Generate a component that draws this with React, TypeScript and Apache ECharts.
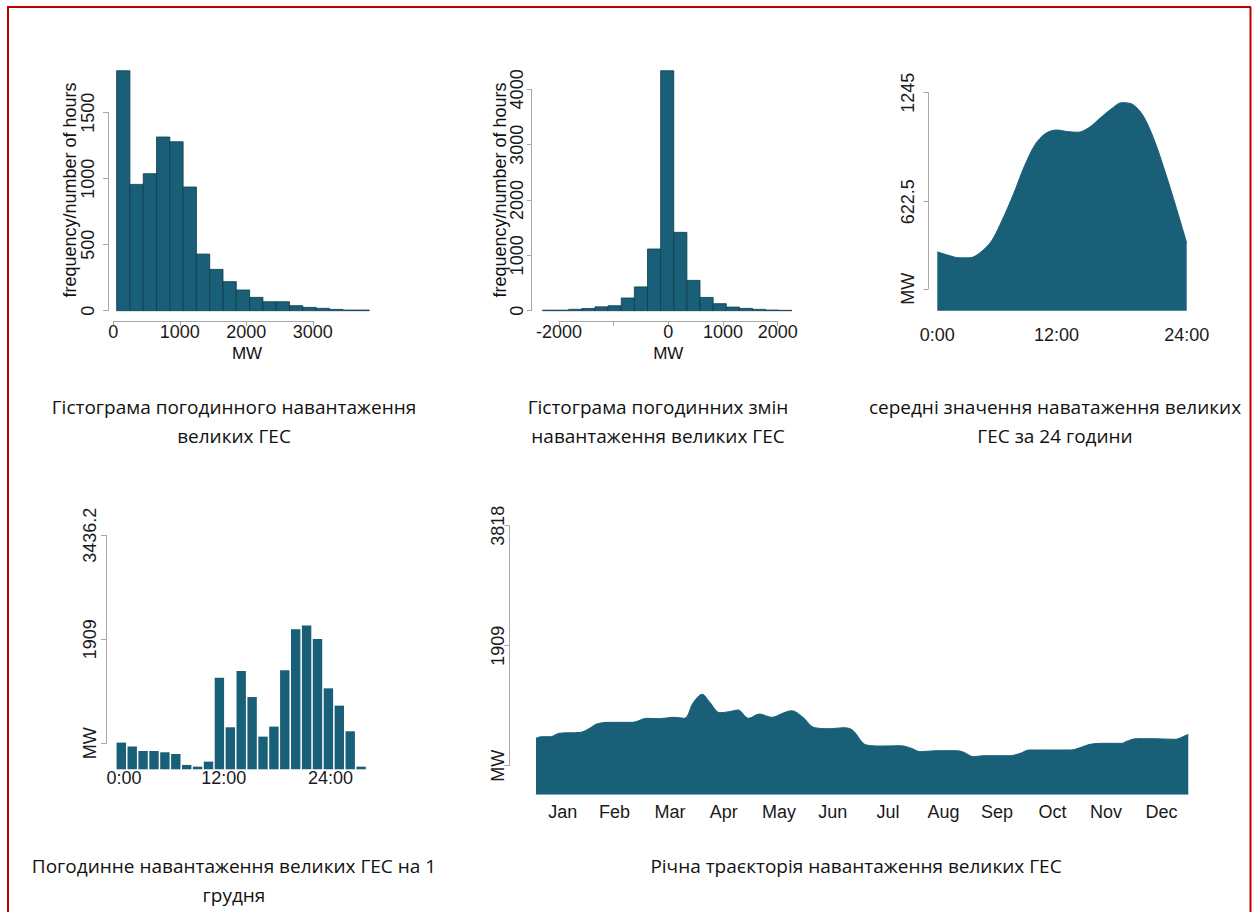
import React, { useEffect, useRef } from "react";
import * as echarts from "echarts";

// ---------- DATA ----------
// Panel 1: histogram of hourly load (MW), bins of equal width
const loadBinStart = 50;
const loadBinWidth = 200;
const loadCounts = [1818, 957, 1038, 1316, 1280, 937, 429, 313, 220, 157, 101, 68, 68, 38, 25, 18, 10, 5, 5];
const loadTicks = [0, 1000, 2000, 3000];
const loadFreqTicks = [0, 500, 1000, 1500];

// Panel 2: histogram of hourly load changes (MW)
const changeBinStart = -2300;
const changeBinWidth = 240;
const changeCounts = [10, 10, 25, 40, 70, 90, 230, 430, 1115, 4337, 1416, 548, 240, 127, 66, 42, 24, 12, 6];
const changeTicks = [-2000, -1000, 0, 1000, 2000];
const changeTickLabels = ["-2000", "", "0", "1000", "2000"];
const changeFreqTicks = [0, 1000, 2000, 3000, 4000];

// Panel 3: mean load by hour of day
const meanHours = [1, 2, 3, 4, 5, 6, 7, 8, 9, 10, 11, 12, 13, 14, 15, 16, 17, 18, 19, 20, 21, 22, 23, 24];
const meanLoad = [336, 317, 302, 302, 334, 398, 520, 662, 820, 947, 1013, 1032, 1023, 1019, 1046, 1099, 1150, 1188, 1179, 1112, 976, 795, 596, 387];
const meanXTicks = [1, 12, 24];
const meanXLabels = ["0:00", "12:00", "24:00"];
const meanYTicks = [125, 622.5, 1245];
const meanYLabels = ["MW", "622.5", "1245"];

// Panel 4: hourly load on 1 December
const dec1Load = [392, 333, 269, 269, 250, 225, 64, 39, 113, 1346, 617, 1444, 1062, 480, 627, 1454, 2056, 2110, 1914, 1189, 935, 558, 39];
const dec1XTicks = [0.25, 9.4, 19.2];
const dec1XLabels = ["0:00", "12:00", "24:00"];
const dec1YTicks = [381.8, 1909, 3436.2];
const dec1YLabels = ["MW", "1909", "3436.2"];

// Panel 5: yearly trajectory (day of year, MW)
const yearDays = [0, 3, 8, 13, 25, 30, 34, 41, 54, 62, 69, 77, 83, 88, 93, 97, 103, 108, 113, 119, 125, 132, 138, 143, 149, 156, 165, 172, 177, 185, 194, 204, 210, 215, 224, 235, 239, 245, 250, 265, 271, 276, 288, 299, 306, 310, 317, 328, 330, 336, 344, 358, 360, 365];
const yearLoad = [436, 461, 461, 515, 531, 595, 663, 690, 690, 754, 748, 770, 754, 1002, 1136, 1018, 843, 859, 886, 754, 822, 770, 834, 875, 780, 605, 589, 605, 568, 329, 313, 318, 277, 223, 239, 239, 218, 143, 159, 159, 197, 250, 250, 250, 302, 340, 356, 356, 382, 430, 430, 420, 436, 500];
const monthTicks = [15, 44, 75, 105, 136, 166, 197, 228, 258, 289, 319, 350];
const monthLabels = ["Jan", "Feb", "Mar", "Apr", "May", "Jun", "Jul", "Aug", "Sep", "Oct", "Nov", "Dec"];
const yearYTicks = [0, 1909, 3818];
const yearYLabels = ["MW", "1909", "3818"];

// Captions
const captions = [
  "Гістограма погодинного навантаження\nвеликих ГЕС",
  "Гістограма погодинних змін\nнавантаження великих ГЕС",
  "середні значення наватаження великих\nГЕС за 24 години",
  "Погодинне навантаження великих ГЕС на 1\nгрудня",
  "Річна траєкторія навантаження великих ГЕС",
];
const yTitle = "frequency/number of hours";
const xTitle = "MW";

// ---------- STYLE ----------
const W = 1255;
const H = 912;
const FILL = "#185f77";
const EDGE = "#0d3d4d";
const AXIS = "#a8a8a8";
const TICK_FONT = "'Liberation Sans', Arial, Helvetica, sans-serif";
const CAP_FONT = "'Open Sans', 'Noto Sans', sans-serif";

type Scale = { x0: number; kx: number; y0: number; ky: number; xv0: number; yv0: number };
const px = (s: Scale, v: number) => s.x0 + (v - s.xv0) * s.kx;
const py = (s: Scale, v: number) => s.y0 - (v - s.yv0) * s.ky;
const rect = (s: Scale, xmin: number, xmax: number, ymin: number, ymax: number) => ({
  left: px(s, xmin),
  width: px(s, xmax) - px(s, xmin),
  top: py(s, ymax),
  height: py(s, ymin) - py(s, ymax),
  containLabel: false,
});

const S1: Scale = { x0: 113.3, kx: 0.0665, y0: 310.7, ky: 0.132, xv0: 0, yv0: 0 };
const S2: Scale = { x0: 668.3, kx: 0.0547, y0: 310.7, ky: 0.05533, xv0: 0, yv0: 0 };
const S3: Scale = { x0: 937.3, kx: 10.843, y0: 310.7, ky: 0.1751, xv0: 1, yv0: 0 };
const S4: Scale = { x0: 121.3, kx: 10.9, y0: 769.3, ky: 0.0681, xv0: 0, yv0: 0 };
const S5: Scale = { x0: 536, kx: 1.787, y0: 765.7, ky: 0.06286, xv0: 0, yv0: 0 };

const hidden = (extra: any = {}) => ({
  type: "value",
  show: false,
  splitLine: { show: false },
  ...extra,
});

const labelStyle = { fontFamily: TICK_FONT, fontSize: 18, color: "#1a1a1a" };

const lookup = (vals: number[], labels: string[]) => (v: number) => {
  for (let i = 0; i < vals.length; i++) if (Math.abs(vals[i] - v) < 1e-6) return labels[i];
  return "";
};

function visibleY(gridIndex: number, min: number, max: number, offset: number, margin: number, ticks: number[], labels?: string[]) {
  const fmt = labels ? lookup(ticks, labels) : (v: number) => String(v);
  return {
    type: "value",
    gridIndex,
    min,
    max,
    offset,
    axisLine: { show: true, onZero: false, lineStyle: { color: AXIS, width: 1 } },
    axisTick: { show: true, length: 5, customValues: ticks, lineStyle: { color: AXIS, width: 1 } },
    axisLabel: { show: true, rotate: 90, margin, customValues: ticks, formatter: fmt, ...labelStyle },
    splitLine: { show: false },
  };
}

function visibleX(gridIndex: number, min: number, max: number, offset: number, margin: number, ticks: number[], labels: string[], showLine: boolean) {
  return {
    type: "value",
    gridIndex,
    min,
    max,
    offset,
    axisLine: { show: showLine, onZero: false, lineStyle: { color: AXIS, width: 1 } },
    axisTick: { show: showLine, length: 5, customValues: ticks, lineStyle: { color: AXIS, width: 1 } },
    axisLabel: { show: true, margin, lineHeight: 15, customValues: ticks, formatter: lookup(ticks, labels), ...labelStyle },
    splitLine: { show: false },
  };
}

function histData(start: number, width: number, counts: number[]) {
  return counts.map((c, i) => [start + i * width, start + (i + 1) * width, c]);
}

function histSeries(xAxisIndex: number, yAxisIndex: number, data: number[][]) {
  return {
    type: "custom",
    xAxisIndex,
    yAxisIndex,
    encode: { x: [0, 1], y: 2 },
    data,
    renderItem: (_params: any, api: any) => {
      const p0 = api.coord([api.value(0), 0]);
      const p1 = api.coord([api.value(1), api.value(2)]);
      return {
        type: "rect",
        shape: { x: p0[0], y: p1[1], width: p1[0] - p0[0], height: p0[1] - p1[1] },
        style: { fill: FILL, stroke: EDGE, lineWidth: 0.8 },
      };
    },
  };
}

function buildOption() {
  const grids: any[] = [];
  const xAxes: any[] = [];
  const yAxes: any[] = [];
  const series: any[] = [];

  // ---- Panel 1 ----
  grids.push(rect(S1, 0, 3900, 0, 1900));
  xAxes.push(hidden({ gridIndex: 0, min: 0, max: 3900 }));
  yAxes.push(hidden({ gridIndex: 0, min: 0, max: 1900 }));
  series.push(histSeries(0, 0, histData(loadBinStart, loadBinWidth, loadCounts)));
  grids.push(rect(S1, 0, 3000, 0, 1500));
  xAxes.push(visibleX(1, 0, 3000, 10.3, 3.5, loadTicks, loadTicks.map(String), true));
  yAxes.push(visibleY(1, 0, 1500, 5.3, 11.5, loadFreqTicks));

  // ---- Panel 2 ----
  grids.push(rect(S2, -2300, 2260, 0, 4400));
  xAxes.push(hidden({ gridIndex: 2, min: -2300, max: 2260 }));
  yAxes.push(hidden({ gridIndex: 2, min: 0, max: 4400 }));
  series.push(histSeries(2, 2, histData(changeBinStart, changeBinWidth, changeCounts)));
  grids.push(rect(S2, -2000, 2000, 0, 4000));
  xAxes.push(visibleX(3, -2000, 2000, 10.3, 3.5, changeTicks, changeTickLabels, true));
  yAxes.push(visibleY(3, 0, 4000, px(S2, -2000) - 531.7, 5.5, changeFreqTicks));

  // ---- Panel 3 ----
  grids.push(rect(S3, 1, 24, 0, 1245));
  xAxes.push(visibleX(4, 1, 24, 0, 17, meanXTicks, meanXLabels, false));
  yAxes.push(hidden({ gridIndex: 4, min: 0, max: 1245 }));
  series.push({
    type: "line",
    xAxisIndex: 4,
    yAxisIndex: 4,
    data: meanHours.map((h, i) => [h, meanLoad[i]]),
    smooth: 0.3,
    showSymbol: false,
    lineStyle: { color: FILL, width: 1 },
    areaStyle: { color: FILL, opacity: 1, origin: "start" },
  });
  grids.push(rect(S3, 1, 24, 125, 1245));
  xAxes.push(hidden({ gridIndex: 5, min: 1, max: 24 }));
  yAxes.push(visibleY(5, 125, 1245, 937.3 - 928.3, 11.5, meanYTicks, meanYLabels));

  // ---- Panel 4 ----
  grids.push(rect(S4, -0.5, 22.5, 0, 3436.2));
  xAxes.push(visibleX(6, -0.5, 22.5, 0, 1, dec1XTicks, dec1XLabels, false));
  yAxes.push(hidden({ gridIndex: 6, min: 0, max: 3436.2 }));
  series.push({
    type: "bar",
    xAxisIndex: 6,
    yAxisIndex: 6,
    data: dec1Load.map((v, i) => [i, v]),
    barWidth: 9.4,
    itemStyle: { color: FILL },
  });
  grids.push(rect(S4, -0.5, 22.5, 381.8, 3436.2));
  xAxes.push(hidden({ gridIndex: 7, min: -0.5, max: 22.5 }));
  yAxes.push(visibleY(7, 381.8, 3436.2, px(S4, -0.5) - 106, 7.5, dec1YTicks, dec1YLabels));

  // ---- Panel 5 ----
  grids.push(rect(S5, 0, 365, -455, 3818));
  xAxes.push({
    ...visibleX(8, 0, 365, 0, 10, monthTicks, monthLabels, false),
    axisLine: { show: true, onZero: false, lineStyle: { color: "#8cc2d2", width: 1.2 } },
  });
  yAxes.push(hidden({ gridIndex: 8, min: -455, max: 3818 }));
  series.push({
    type: "line",
    xAxisIndex: 8,
    yAxisIndex: 8,
    data: yearDays.map((d, i) => [d, yearLoad[i]]),
    smooth: 0.35,
    showSymbol: false,
    lineStyle: { color: FILL, width: 1 },
    areaStyle: { color: FILL, opacity: 1, origin: "start" },
  });
  grids.push(rect(S5, 0, 365, 0, 3818));
  xAxes.push(hidden({ gridIndex: 9, min: 0, max: 365 }));
  yAxes.push(visibleY(9, 0, 3818, 536 - 509.3, 2, yearYTicks, yearYLabels));

  const txt = (x: number, y: number, text: string, opts: any = {}) => ({
    type: "text",
    x,
    y,
    silent: true,
    ...opts,
    style: {
      text,
      fill: "#111",
      fontFamily: TICK_FONT,
      fontSize: 18,
      align: "center",
      verticalAlign: "middle",
      ...(opts.style || {}),
    },
  });

  const capStyle = { fontFamily: CAP_FONT, fontSize: 19, lineHeight: 29, fill: "#111" };

  const graphic: any[] = [
    // frame
    { type: "line", silent: true, shape: { x1: 8, y1: 7, x2: 8, y2: H }, style: { stroke: "#c00000", lineWidth: 2 } },
    { type: "line", silent: true, shape: { x1: 7, y1: 7, x2: 1251, y2: 7 }, style: { stroke: "#c00000", lineWidth: 2 } },
    { type: "line", silent: true, shape: { x1: 1250.5, y1: 7, x2: 1250.5, y2: H }, style: { stroke: "#c00000", lineWidth: 2 } },
    // axis titles
    txt(70, 190, yTitle, { rotation: Math.PI / 2 }),
    txt(500, 190, yTitle, { rotation: Math.PI / 2 }),
    txt(247, 353.5, xTitle, { style: { fontSize: 17, lineHeight: 14 } }),
    txt(668.3, 353.5, xTitle, { style: { fontSize: 17, lineHeight: 14 } }),
    // captions
    txt(234, 421.5, captions[0], { style: capStyle }),
    txt(658, 421.5, captions[1], { style: capStyle }),
    txt(1055, 421.5, captions[2], { style: capStyle }),
    txt(234, 880.5, captions[3], { style: capStyle }),
    txt(856, 866, captions[4], { style: capStyle }),
  ];

  return {
    animation: false,
    backgroundColor: "#ffffff",
    grid: grids,
    xAxis: xAxes,
    yAxis: yAxes,
    series,
    graphic,
  };
}

export default function App() {
  const ref = useRef<HTMLDivElement>(null);
  useEffect(() => {
    if (!ref.current) return;
    const chart = echarts.init(ref.current, null, { renderer: "svg" });
    chart.setOption(buildOption() as any);
    return () => chart.dispose();
  }, []);
  return (
    <div
      ref={ref}
      style={{ position: "fixed", left: 0, top: 0, width: W, height: H, background: "#fff" }}
    />
  );
}
